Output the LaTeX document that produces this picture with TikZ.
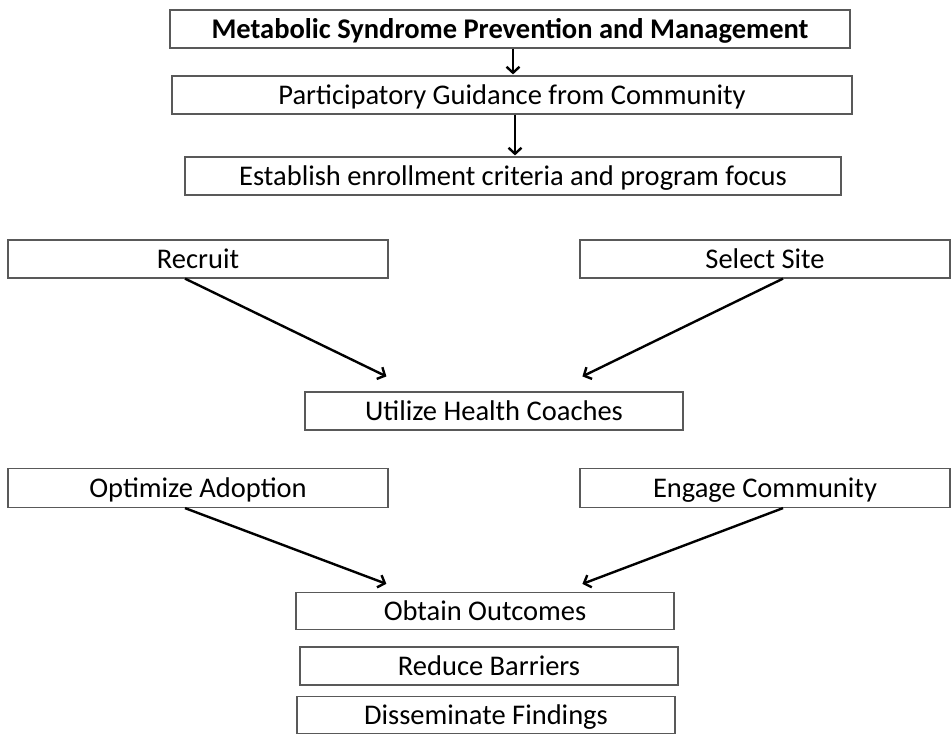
\documentclass[tikz,border=0pt]{standalone}
\usepackage{fontspec}
\setmainfont{Carlito}
\usetikzlibrary{arrows.meta,calc}
\begin{document}
\begin{tikzpicture}[x=1pt,y=-1pt,
  box/.style={draw=black!65, line width=1.2pt, fill=white, inner sep=0pt,
    text height=20pt, text depth=2pt,
    minimum height=38pt, font=\fontsize{28.5}{32}\selectfont},
  arr/.style={draw=black, line width=2.4pt, -{Straight Barb[length=6pt,width=13pt]}}]
\useasboundingbox (0,0) rectangle (952,739);
\node[box, minimum width=680pt, font=\fontsize{28.5}{32}\selectfont\bfseries] (b1) at (510,29) {Metabolic Syndrome Prevention and Management};
\node[box, minimum width=680pt] (b2) at (512,95) {Participatory Guidance from Community};
\node[box, minimum width=656pt] (b3) at (513,176) {Establish enrollment criteria and program focus};
\node[box, minimum width=380pt] (rec) at (198,259) {Recruit};
\node[box, minimum width=370pt] (sel) at (765,259) {Select Site};
\node[box, minimum width=378pt] (uti) at (494,411) {Utilize Health Coaches};
\node[box, minimum width=380pt, minimum height=39pt] (opt) at (198,488) {Optimize Adoption};
\node[box, minimum width=370pt, minimum height=39pt] (eng) at (765,488) {Engage Community};
\node[box, minimum width=378pt, minimum height=37pt] (obt) at (485,611) {Obtain Outcomes};
\node[box, minimum width=378pt] (red) at (489,666) {Reduce Barriers};
\node[box, minimum width=378pt, minimum height=37pt] (dis) at (486,715) {Disseminate Findings};
\coordinate (u1) at ($(uti.north west)+(82,-15)$);
\coordinate (u2) at ($(uti.north west)+(278,-15)$);
\coordinate (o1) at ($(obt.north west)+(91,-8)$);
\coordinate (o2) at ($(obt.north west)+(287,-8)$);
\draw[arr] (b1.south -| 513,0) -- ($(b2.north -| 513,0)+(0,-1)$);
\draw[arr] (b2.south -| 515,0) -- ($(b3.north -| 515,0)+(0,-1)$);
\draw[arr] ($(rec.south)+(-13,0)$) -- (u1);
\draw[arr] ($(sel.south)+(18,0)$) -- (u2);
\draw[arr] ($(opt.south)+(-13,0)$) -- (o1);
\draw[arr] ($(eng.south)+(18,0)$) -- (o2);
\end{tikzpicture}
\end{document}
